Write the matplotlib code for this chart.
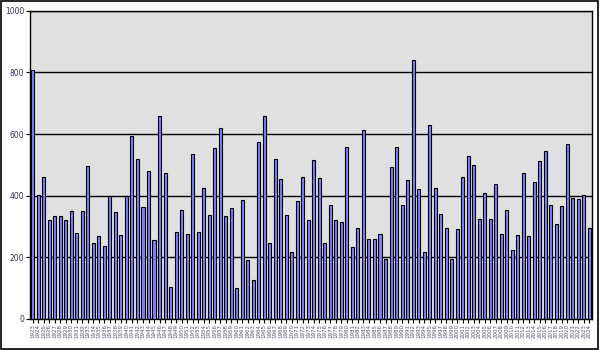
import matplotlib
matplotlib.use("Agg")
import matplotlib.pyplot as plt
from matplotlib.patches import Rectangle

# yearly values
years = list(range(1923, 2025))
values = [
    808, 402, 460, 320, 334, 334, 320, 350, 278, 350,
    497, 247, 269, 236, 398, 347, 273, 398, 594, 519,
    364, 480, 255, 659, 474, 103, 281, 354, 276, 536,
    281, 425, 338, 555, 620, 334, 360, 100, 385, 190,
    127, 574, 659, 247, 519, 455, 338, 218, 383, 461,
    321, 516, 458, 247, 370, 321, 314, 557, 233, 294,
    613, 259, 259, 276, 194, 493, 557, 370, 450, 840,
    421, 216, 629, 424, 340, 294, 194, 291, 461, 528,
    499, 324, 408, 324, 437, 275, 353, 223, 272, 473,
    268, 444, 512, 544, 369, 307, 366, 567, 392, 388,
    402, 294,
]
y_ticks = [0, 200, 400, 600, 800, 1000]

fig = plt.figure(figsize=(6, 3.5), dpi=100)
fig.patch.set_facecolor("white")
ax = fig.add_axes([0.05, 0.089, 0.937, 0.88])
ax.set_facecolor("#e0e0e0")

x = list(range(len(years)))
ax.bar(x, values, width=0.55, color="#8080ff", edgecolor="black", linewidth=0.8, zorder=3)

ax.set_xlim(-0.5, len(years) - 0.5)
ax.set_ylim(0, 1000)
ax.set_yticks(y_ticks)
ax.set_yticklabels([str(t) for t in y_ticks], fontsize=5.5, color="#333355")
ax.yaxis.grid(True, color="black", linewidth=1, zorder=1)
ax.set_axisbelow(True)

ax.set_xticks(x)
ax.set_xticklabels([str(yr) for yr in years], rotation=90, fontsize=4, color="#555577")
ax.tick_params(axis="x", length=3, width=0.8, pad=1)
ax.tick_params(axis="y", length=3, width=0.8, pad=1)

for side in ax.spines.values():
    side.set_color("black")
    side.set_linewidth(1)

# outer frame around the whole picture
fig.patches.append(Rectangle((0.002, 0.003), 0.995, 0.994, transform=fig.transFigure,
                             fill=False, edgecolor="black", linewidth=1.2))

fig.savefig("out.png", dpi=100)
